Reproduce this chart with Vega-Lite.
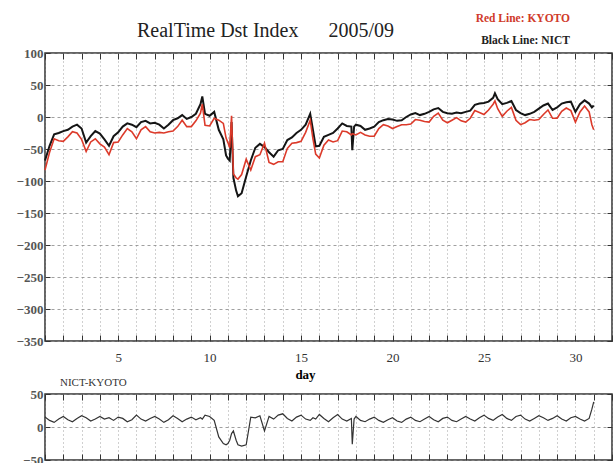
{
  "$schema": "https://vega.github.io/schema/vega-lite/v6.json",
  "padding": {"left": 15, "top": 13, "right": 0, "bottom": 0},
  "background": "white",
  "config": {
    "font": "Liberation Serif",
    "view": {"stroke": "#333", "strokeWidth": 1.5},
    "axis": {"domain": false, "tickColor": "#333", "tickWidth": 1, "gridColor": "#888", "gridWidth": 0.8, "labelFont": "Liberation Serif", "labelColor": "#333", "titleFont": "Liberation Serif"}
  },
  "title": {"text": "Red Line: KYOTO", "subtitle": "Black Line: NICT", "anchor": "end", "frame": "group", "color": "#d03a2a", "subtitleColor": "#222", "fontSize": 11.5, "subtitleFontSize": 11.5, "font": "Liberation Serif", "subtitleFont": "Liberation Serif", "fontWeight": "bold", "subtitleFontWeight": "bold", "dx": -42, "offset": -26, "subtitlePadding": 10},
  "data": {"values": [
    {"d":1,"NICT":-68,"KYOTO":-83,"diff":15},
    {"d":1.25,"NICT":-45,"KYOTO":-55,"diff":10},
    {"d":1.5,"NICT":-27,"KYOTO":-34,"diff":7},
    {"d":1.75,"NICT":-25,"KYOTO":-37,"diff":12},
    {"d":2,"NICT":-22,"KYOTO":-38,"diff":16},
    {"d":2.25,"NICT":-20,"KYOTO":-31,"diff":11},
    {"d":2.5,"NICT":-15,"KYOTO":-23,"diff":8},
    {"d":2.75,"NICT":-12,"KYOTO":-25,"diff":13},
    {"d":3,"NICT":-18,"KYOTO":-35,"diff":17},
    {"d":3.25,"NICT":-40,"KYOTO":-54,"diff":14},
    {"d":3.5,"NICT":-30,"KYOTO":-39,"diff":9},
    {"d":3.75,"NICT":-22,"KYOTO":-34,"diff":12},
    {"d":4,"NICT":-26,"KYOTO":-42,"diff":16},
    {"d":4.25,"NICT":-35,"KYOTO":-47,"diff":12},
    {"d":4.5,"NICT":-45,"KYOTO":-59,"diff":14},
    {"d":4.75,"NICT":-30,"KYOTO":-40,"diff":10},
    {"d":5,"NICT":-24,"KYOTO":-39,"diff":15},
    {"d":5.25,"NICT":-15,"KYOTO":-28,"diff":13},
    {"d":5.5,"NICT":-10,"KYOTO":-18,"diff":8},
    {"d":5.75,"NICT":-12,"KYOTO":-23,"diff":11},
    {"d":6,"NICT":-16,"KYOTO":-34,"diff":18},
    {"d":6.25,"NICT":-8,"KYOTO":-20,"diff":12},
    {"d":6.5,"NICT":-6,"KYOTO":-15,"diff":9},
    {"d":6.75,"NICT":-10,"KYOTO":-23,"diff":13},
    {"d":7,"NICT":-9,"KYOTO":-25,"diff":16},
    {"d":7.25,"NICT":-12,"KYOTO":-24,"diff":12},
    {"d":7.5,"NICT":-18,"KYOTO":-25,"diff":7},
    {"d":7.75,"NICT":-12,"KYOTO":-23,"diff":11},
    {"d":8,"NICT":-5,"KYOTO":-22,"diff":17},
    {"d":8.25,"NICT":-2,"KYOTO":-15,"diff":13},
    {"d":8.5,"NICT":3,"KYOTO":-5,"diff":8},
    {"d":8.75,"NICT":-3,"KYOTO":-15,"diff":12},
    {"d":9,"NICT":0,"KYOTO":-15,"diff":15},
    {"d":9.25,"NICT":5,"KYOTO":-6,"diff":11},
    {"d":9.5,"NICT":20,"KYOTO":6,"diff":14},
    {"d":9.6,"NICT":32,"KYOTO":20,"diff":12},
    {"d":9.75,"NICT":5,"KYOTO":-13,"diff":18},
    {"d":10,"NICT":2,"KYOTO":-14,"diff":16},
    {"d":10.25,"NICT":8,"KYOTO":-2,"diff":10},
    {"d":10.5,"NICT":-20,"KYOTO":-5,"diff":-15},
    {"d":10.75,"NICT":-35,"KYOTO":-10,"diff":-25},
    {"d":10.9,"NICT":-60,"KYOTO":-33,"diff":-27},
    {"d":11,"NICT":-65,"KYOTO":-40,"diff":-25},
    {"d":11.1,"NICT":-68,"KYOTO":-48,"diff":-20},
    {"d":11.2,"NICT":-8,"KYOTO":2,"diff":-10},
    {"d":11.3,"NICT":-95,"KYOTO":-89,"diff":-6},
    {"d":11.45,"NICT":-115,"KYOTO":-95,"diff":-20},
    {"d":11.55,"NICT":-124,"KYOTO":-97,"diff":-27},
    {"d":11.75,"NICT":-119,"KYOTO":-90,"diff":-29},
    {"d":12,"NICT":-93,"KYOTO":-66,"diff":-27},
    {"d":12.25,"NICT":-68,"KYOTO":-83,"diff":15},
    {"d":12.5,"NICT":-48,"KYOTO":-62,"diff":14},
    {"d":12.75,"NICT":-42,"KYOTO":-59,"diff":17},
    {"d":13,"NICT":-47,"KYOTO":-41,"diff":-6},
    {"d":13.25,"NICT":-55,"KYOTO":-71,"diff":16},
    {"d":13.5,"NICT":-62,"KYOTO":-74,"diff":12},
    {"d":13.75,"NICT":-52,"KYOTO":-70,"diff":18},
    {"d":14,"NICT":-50,"KYOTO":-70,"diff":20},
    {"d":14.25,"NICT":-36,"KYOTO":-49,"diff":13},
    {"d":14.5,"NICT":-32,"KYOTO":-41,"diff":9},
    {"d":14.75,"NICT":-25,"KYOTO":-40,"diff":15},
    {"d":15,"NICT":-20,"KYOTO":-38,"diff":18},
    {"d":15.25,"NICT":-12,"KYOTO":-24,"diff":12},
    {"d":15.5,"NICT":5,"KYOTO":-5,"diff":10},
    {"d":15.65,"NICT":-20,"KYOTO":-34,"diff":14},
    {"d":15.8,"NICT":-46,"KYOTO":-58,"diff":12},
    {"d":16,"NICT":-45,"KYOTO":-64,"diff":19},
    {"d":16.25,"NICT":-31,"KYOTO":-44,"diff":13},
    {"d":16.5,"NICT":-28,"KYOTO":-36,"diff":8},
    {"d":16.75,"NICT":-25,"KYOTO":-39,"diff":14},
    {"d":17,"NICT":-18,"KYOTO":-37,"diff":19},
    {"d":17.25,"NICT":-10,"KYOTO":-22,"diff":12},
    {"d":17.5,"NICT":-14,"KYOTO":-23,"diff":9},
    {"d":17.75,"NICT":-15,"KYOTO":-28,"diff":13},
    {"d":17.8,"NICT":-52,"KYOTO":-26,"diff":-26},
    {"d":17.9,"NICT":-15,"KYOTO":-27,"diff":12},
    {"d":18,"NICT":-12,"KYOTO":-28,"diff":16},
    {"d":18.25,"NICT":-14,"KYOTO":-24,"diff":10},
    {"d":18.5,"NICT":-20,"KYOTO":-28,"diff":8},
    {"d":18.75,"NICT":-18,"KYOTO":-30,"diff":12},
    {"d":19,"NICT":-15,"KYOTO":-30,"diff":15},
    {"d":19.25,"NICT":-8,"KYOTO":-18,"diff":10},
    {"d":19.5,"NICT":-5,"KYOTO":-12,"diff":7},
    {"d":19.75,"NICT":-3,"KYOTO":-14,"diff":11},
    {"d":20,"NICT":-4,"KYOTO":-18,"diff":14},
    {"d":20.25,"NICT":-6,"KYOTO":-15,"diff":9},
    {"d":20.5,"NICT":-5,"KYOTO":-12,"diff":7},
    {"d":20.75,"NICT":0,"KYOTO":-12,"diff":12},
    {"d":21,"NICT":4,"KYOTO":-11,"diff":15},
    {"d":21.25,"NICT":6,"KYOTO":-4,"diff":10},
    {"d":21.5,"NICT":3,"KYOTO":-5,"diff":8},
    {"d":21.75,"NICT":5,"KYOTO":-7,"diff":12},
    {"d":22,"NICT":8,"KYOTO":-8,"diff":16},
    {"d":22.25,"NICT":12,"KYOTO":1,"diff":11},
    {"d":22.5,"NICT":14,"KYOTO":6,"diff":8},
    {"d":22.75,"NICT":8,"KYOTO":-5,"diff":13},
    {"d":23,"NICT":6,"KYOTO":-9,"diff":15},
    {"d":23.25,"NICT":5,"KYOTO":-5,"diff":10},
    {"d":23.5,"NICT":7,"KYOTO":-1,"diff":8},
    {"d":23.75,"NICT":6,"KYOTO":-6,"diff":12},
    {"d":24,"NICT":8,"KYOTO":-8,"diff":16},
    {"d":24.25,"NICT":10,"KYOTO":-2,"diff":12},
    {"d":24.5,"NICT":19,"KYOTO":10,"diff":9},
    {"d":24.75,"NICT":21,"KYOTO":7,"diff":14},
    {"d":25,"NICT":22,"KYOTO":4,"diff":18},
    {"d":25.25,"NICT":24,"KYOTO":11,"diff":13},
    {"d":25.5,"NICT":30,"KYOTO":20,"diff":10},
    {"d":25.6,"NICT":37,"KYOTO":25,"diff":12},
    {"d":25.75,"NICT":28,"KYOTO":13,"diff":15},
    {"d":26,"NICT":20,"KYOTO":1,"diff":19},
    {"d":26.25,"NICT":22,"KYOTO":9,"diff":13},
    {"d":26.5,"NICT":25,"KYOTO":15,"diff":10},
    {"d":26.75,"NICT":11,"KYOTO":-5,"diff":16},
    {"d":27,"NICT":6,"KYOTO":-12,"diff":18},
    {"d":27.25,"NICT":3,"KYOTO":-9,"diff":12},
    {"d":27.5,"NICT":5,"KYOTO":-4,"diff":9},
    {"d":27.75,"NICT":8,"KYOTO":-5,"diff":13},
    {"d":28,"NICT":13,"KYOTO":-4,"diff":17},
    {"d":28.25,"NICT":18,"KYOTO":4,"diff":14},
    {"d":28.5,"NICT":21,"KYOTO":11,"diff":10},
    {"d":28.75,"NICT":11,"KYOTO":-2,"diff":13},
    {"d":29,"NICT":15,"KYOTO":-2,"diff":17},
    {"d":29.25,"NICT":21,"KYOTO":9,"diff":12},
    {"d":29.5,"NICT":23,"KYOTO":14,"diff":9},
    {"d":29.75,"NICT":24,"KYOTO":10,"diff":14},
    {"d":30,"NICT":8,"KYOTO":-8,"diff":16},
    {"d":30.25,"NICT":20,"KYOTO":8,"diff":12},
    {"d":30.5,"NICT":26,"KYOTO":17,"diff":9},
    {"d":30.75,"NICT":21,"KYOTO":8,"diff":13},
    {"d":30.9,"NICT":15,"KYOTO":-12,"diff":27},
    {"d":31,"NICT":18,"KYOTO":-20,"diff":38}
  ]},
  "spacing": -6,
  "vconcat": [
    {
      "width": 567,
      "height": 288,
      "title": {"text": "RealTime Dst Index\u00a0\u00a0\u00a0\u00a0\u00a0\u00a02005/09", "fontSize": 20, "fontWeight": "normal", "font": "Liberation Serif", "color": "#222", "dx": -63, "offset": 6},
      "layer": [
        {
          "mark": {"type": "line", "color": "#151515", "strokeWidth": 2},
          "encoding": {
            "x": {"field": "d", "type": "quantitative", "scale": {"domain": [1, 32], "nice": false},
              "axis": {"orient": "bottom", "values": [1,2,3,4,5,6,7,8,9,10,11,12,13,14,15,16,17,18,19,20,21,22,23,24,25,26,27,28,29,30,31,32], "labelExpr": "datum.value % 5 == 0 ? datum.label : ''", "tickSize": -6, "labelPadding": 16, "labelFontSize": 13, "grid": true, "gridDash": [1, 3], "title": "day", "titleFontSize": 13, "titleFontWeight": "bold", "titleX": 260, "titlePadding": 4}},
            "y": {"field": "NICT", "type": "quantitative", "scale": {"domain": [-350, 100], "nice": false},
              "axis": {"orient": "left", "values": [100,50,0,-50,-100,-150,-200,-250,-300,-350], "tickSize": -5, "labelPadding": 7, "labelFontSize": 13, "labelFontWeight": "bold", "labelColor": "#555", "grid": true, "gridDash": [3, 3], "title": null}}
          }
        },
        {
          "mark": {"type": "line", "color": "#dc3a2a", "strokeWidth": 1.6},
          "encoding": {
            "x": {"field": "d", "type": "quantitative", "scale": {"domain": [1, 32], "nice": false},
              "axis": {"orient": "top", "values": [1,2,3,4,5,6,7,8,9,10,11,12,13,14,15,16,17,18,19,20,21,22,23,24,25,26,27,28,29,30,31,32], "labels": false, "tickSize": -6, "grid": false, "title": null}},
            "y": {"field": "KYOTO", "type": "quantitative", "scale": {"domain": [-350, 100], "nice": false},
              "axis": {"orient": "right", "values": [100,50,0,-50,-100,-150,-200,-250,-300,-350], "labels": false, "tickSize": -5, "grid": false, "title": null}}
          }
        }
      ],
      "resolve": {"axis": {"x": "independent", "y": "independent"}}
    },
    {
      "width": 567,
      "height": 66,
      "title": {"text": "NICT-KYOTO", "anchor": "start", "frame": "group", "fontSize": 11, "fontWeight": "normal", "font": "Liberation Serif", "color": "#333", "dx": 15, "offset": 0},
      "layer": [
        {
          "mark": {"type": "line", "color": "#333", "strokeWidth": 1.2},
          "encoding": {
            "x": {"field": "d", "type": "quantitative", "scale": {"domain": [1, 32], "nice": false},
              "axis": {"orient": "bottom", "values": [1,2,3,4,5,6,7,8,9,10,11,12,13,14,15,16,17,18,19,20,21,22,23,24,25,26,27,28,29,30,31,32], "labels": false, "tickSize": -6, "grid": true, "gridDash": [1, 3], "title": null}},
            "y": {"field": "diff", "type": "quantitative", "scale": {"domain": [-50, 50], "nice": false},
              "axis": {"orient": "left", "values": [50, 0, -50], "tickSize": -5, "labelPadding": 7, "labelFontSize": 13, "labelFontWeight": "bold", "labelColor": "#555", "grid": true, "gridDash": [3, 3], "title": null}}
          }
        },
        {
          "mark": {"type": "line", "color": "#333", "strokeWidth": 1.2, "strokeOpacity": 0},
          "encoding": {
            "x": {"field": "d", "type": "quantitative", "scale": {"domain": [1, 32], "nice": false},
              "axis": {"orient": "top", "values": [1,2,3,4,5,6,7,8,9,10,11,12,13,14,15,16,17,18,19,20,21,22,23,24,25,26,27,28,29,30,31,32], "labels": false, "tickSize": -6, "grid": false, "title": null}},
            "y": {"field": "diff", "type": "quantitative", "scale": {"domain": [-50, 50], "nice": false},
              "axis": {"orient": "right", "values": [50, 0, -50], "labels": false, "tickSize": -5, "grid": false, "title": null}}
          }
        }
      ],
      "resolve": {"axis": {"x": "independent", "y": "independent"}}
    }
  ]
}
